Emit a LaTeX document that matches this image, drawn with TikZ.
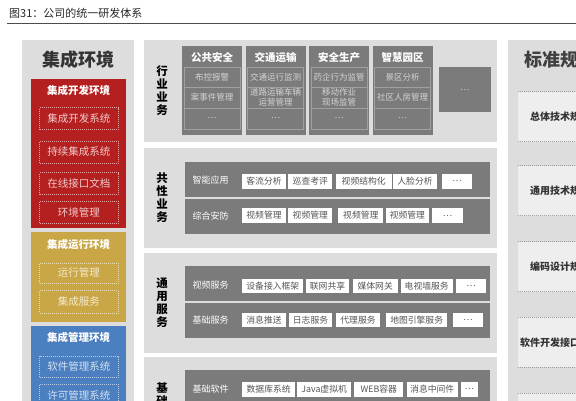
\documentclass[tikz,border=0pt]{standalone}
\usepackage{fontspec}
\setmainfont{Noto Sans CJK SC}
\definecolor{pgray}{HTML}{DDDDDD}
\definecolor{dgray}{HTML}{7B7B7B}
\definecolor{cline}{HTML}{A0A0A0}
\definecolor{ctext}{HTML}{D4D4D4}
\definecolor{envred}{HTML}{B3201F}
\definecolor{envgold}{HTML}{C9A646}
\definecolor{envblue}{HTML}{4B7FBF}
\definecolor{lbox}{HTML}{EEEEEE}
\definecolor{wtext}{HTML}{555555}
\definecolor{dtext}{HTML}{333333}
\definecolor{redtxt}{HTML}{F2CACA}
\definecolor{goldtxt}{HTML}{F5EACB}
\definecolor{bluetxt}{HTML}{D3E0F1}
\newcommand\myfs[1]{\fontsize{#1}{#1}\selectfont}
\tikzset{
  box/.style 2 args={anchor=north west,inner sep=0pt,outer sep=0pt,minimum width=#1,minimum height=#2},
  panel/.style={fill=pgray,draw=none},
  envtitle/.style={inner sep=0pt,text=white,font=\myfs{10.5}\bfseries},
  dotbox/.style={draw=white,draw opacity=0.6,line width=0.8pt,dash pattern=on 0.8pt off 1.2pt,font=\myfs{10.5}},
  col/.style={fill=dgray,draw=none},
  colhead/.style={inner sep=0pt,text=white,font=\myfs{10.5}\bfseries},
  cell/.style={draw=cline,line width=0.6pt,text=ctext,font=\fontsize{8.5}{10}\selectfont,align=center},
  vtext/.style={inner sep=0pt,align=center,text=black,font=\fontsize{11.5}{13}\selectfont\bfseries},
  row/.style={fill=dgray,draw=none},
  rowlabel/.style={inner sep=0pt,text=white,font=\myfs{9}},
  wbox/.style={fill=white,draw=none,text=wtext,font=\myfs{8.8}},
  sbox/.style={fill=lbox,draw=none,text=dtext,font=\myfs{10}\bfseries},
  sline/.style={draw=cline,line width=0.6pt,dash pattern=on 1pt off 1pt},
}
\begin{document}
\begin{tikzpicture}[x=1pt,y=-1pt]
\useasboundingbox (0,0) rectangle (576,400);
\clip (0,0) rectangle (576,400);
\fill[white] (0,0) rectangle (576,400);
% title
\node[anchor=west,inner sep=0pt,text=black!85,font=\myfs{11}] (title) at (9,13) {图31：公司的统一研发体系};
\coordinate (tl1) at (7,23);
\coordinate (tl2) at (576,23);
\draw[black!70,line width=0.7pt] (tl1) -- (tl2);
% left panel
\node[box={112}{370},panel] (lp) at (22,40) {};
\node[inner sep=0pt,text=dtext,font=\myfs{18}\bfseries] (lptitle) at (78,60) {集成环境};
\node[box={95}{149},fill=envred] (red) at (31,78.5) {};
\node[envtitle] (redt) at (78.5,90) {集成开发环境};
\node[box={78.5}{22},dotbox,text=redtxt] (d1) at (39.5,107.5) {集成开发系统};
\node[box={78.5}{22},dotbox,text=redtxt] (d2) at (39.5,141) {持续集成系统};
\node[box={78.5}{22},dotbox,text=redtxt] (d3) at (39.5,172.5) {在线接口文档};
\node[box={78.5}{22},dotbox,text=redtxt] (d4) at (39.5,201) {环境管理};
\node[box={95}{90},fill=envgold] (gold) at (31,231.5) {};
\node[envtitle] (goldt) at (78.5,244) {集成运行环境};
\node[box={78.5}{20},dotbox,text=goldtxt] (d5) at (39.5,263) {运行管理};
\node[box={78.5}{22.5},dotbox,text=goldtxt] (d6) at (39.5,290.5) {集成服务};
\node[box={95}{90},fill=envblue] (blue) at (31,326) {};
\node[envtitle] (bluet) at (78.5,337.5) {集成管理环境};
\node[box={78.5}{21.5},dotbox,text=bluetxt] (d7) at (39.5,356) {软件管理系统};
\node[box={78.5}{22},dotbox,text=bluetxt] (d8) at (39.5,384) {许可管理系统};
% middle panels
\node[box={353}{102},panel] (p1) at (144,40) {};
\node[box={353}{100},panel] (p2) at (144,148.3) {};
\node[box={353}{100},panel] (p3) at (144,252.7) {};
\node[box={353}{60},panel] (p4) at (144,357.3) {};
\node[vtext] (v1) at (162,91) {行\\业\\业\\务};
\node[vtext] (v2) at (162,198) {共\\性\\业\\务};
\node[vtext] (v3) at (162,302.5) {通\\用\\服\\务};
\node[vtext,anchor=north] (v4) at (162,382) {基\\础};
% panel 1 columns
\node[box={60}{89.3},col] (c1) at (182,45.7) {};
\node[colhead] (c1h) at (212,57.5) {公共安全};
\node[box={56}{20},cell] (c1a) at (184,67) {布控报警};
\node[box={56}{21},cell] (c1b) at (184,87) {案事件管理};
\node[box={56}{21},cell] (c1c) at (184,108) {…};
\node[box={60}{89.3},col] (c2) at (245.5,45.7) {};
\node[colhead] (c2h) at (275.5,57.5) {交通运输};
\node[box={56}{20},cell] (c2a) at (247.5,67) {交通运行监测};
\node[box={56}{21},cell] (c2b) at (247.5,87) {道路运输车辆\\运营管理};
\node[box={56}{21},cell] (c2c) at (247.5,108) {…};
\node[box={60}{89.3},col] (c3) at (309,45.7) {};
\node[colhead] (c3h) at (339,57.5) {安全生产};
\node[box={56}{20},cell] (c3a) at (311,67) {药企行为监管};
\node[box={56}{21},cell] (c3b) at (311,87) {移动作业\\现场监管};
\node[box={56}{21},cell] (c3c) at (311,108) {…};
\node[box={60}{89.3},col] (c4) at (372.5,45.7) {};
\node[colhead] (c4h) at (402.5,57.5) {智慧园区};
\node[box={56}{20},cell] (c4a) at (374.5,67) {景区分析};
\node[box={56}{21},cell] (c4b) at (374.5,87) {社区人房管理};
\node[box={56}{21},cell] (c4c) at (374.5,108) {…};
\node[box={52}{45},col,text=ctext,font=\myfs{9}] (c5) at (439,67) {…};
% panel 2 rows
\node[box={305}{35},row] (r21) at (185,161.7) {};
\node[box={305}{34.7},row] (r22) at (185,199.3) {};
\node[rowlabel] (r21l) at (210.5,180) {智能应用};
\node[rowlabel] (r22l) at (210.5,216.5) {综合安防};
\node[box={43.4}{14.7},wbox] (b211) at (242.3,174) {客流分析};
\node[box={44}{14.7},wbox] (b212) at (288.3,174) {巡查考评};
\node[box={56}{14.7},wbox] (b213) at (335.7,174) {视频结构化};
\node[box={43.4}{14.7},wbox] (b214) at (393.3,174) {人脸分析};
\node[box={30.3}{14.7},wbox] (b215) at (442,174) {…};
\node[box={43.4}{14.4},wbox] (b221) at (242.3,208.3) {视频管理};
\node[box={44}{14.4},wbox] (b222) at (288.3,208.3) {视频管理};
\node[box={45}{14.4},wbox] (b223) at (338.3,208.3) {视频管理};
\node[box={43.3}{14.4},wbox] (b224) at (385.7,208.3) {视频管理};
\node[box={30.4}{14.4},wbox] (b225) at (432.3,208.3) {…};
% panel 3 rows
\node[box={305}{35},row] (r31) at (185,266) {};
\node[box={305}{34.4},row] (r32) at (185,303.3) {};
\node[rowlabel] (r31l) at (210.5,285) {视频服务};
\node[rowlabel] (r32l) at (210.5,320) {基础服务};
\node[box={61}{14.3},wbox] (b311) at (242.3,279) {设备接入框架};
\node[box={43.6}{14.3},wbox] (b312) at (305.7,279) {联网共享};
\node[box={45}{14.3},wbox] (b313) at (352.7,279) {媒体网关};
\node[box={52}{14.3},wbox] (b314) at (400.7,279) {电视墙服务};
\node[box={30}{14.3},wbox] (b315) at (456,279) {…};
\node[box={43.4}{14}, wbox] (b321) at (242.3,312.7) {消息推送};
\node[box={43}{14},wbox] (b322) at (289,312.7) {日志服务};
\node[box={44}{14},wbox] (b323) at (336,312.7) {代理服务};
\node[box={61.3}{14},wbox] (b324) at (386,312.7) {地图引擎服务};
\node[box={30.6}{14},wbox] (b325) at (452.7,312.7) {…};
% panel 4 row
\node[box={305}{45},row] (r41) at (185,370) {};
\node[rowlabel] (r41l) at (210.5,389) {基础软件};
\node[box={52.7}{15},wbox] (b411) at (242.3,381.7) {数据库系统};
\node[box={53.7}{15},wbox] (b412) at (297.3,381.7) {Java虚拟机};
\node[box={49}{15},wbox] (b413) at (354.3,381.7) {WEB容器};
\node[box={51}{15},wbox] (b414) at (406.7,381.7) {消息中间件};
\node[box={17}{15},wbox] (b415) at (460.7,381.7) {…};
% right panel
\node[box={80}{370},panel] (rp) at (507.7,40) {};
\node[inner sep=0pt,text=black!75,font=\myfs{18}\bfseries] (rpt) at (560,60) {标准规范};
\node[box={85}{50},sbox] (s1) at (517.7,91.7) {总体技术规范};
\node[box={85}{50},sbox] (s2) at (517.7,165.5) {通用技术规范};
\node[box={85}{50},sbox] (s3) at (517.7,241.7) {编码设计规范};
\node[box={85}{50},sbox] (s4) at (517.7,317.3) {软件开发接口规范};
\node[box={85}{50},sbox] (s5) at (517.7,393.3) {};
\foreach \s in {s1,s2,s3,s4,s5}{
  \draw[sline] (\s.north west) -- (\s.north east);
  \draw[sline] (\s.south west) -- (\s.south east);
}
\end{tikzpicture}
\end{document}
